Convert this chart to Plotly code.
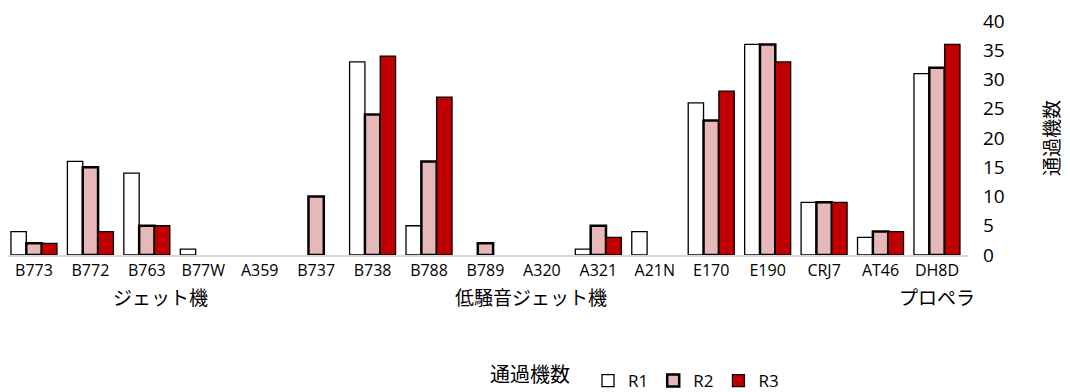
import plotly.graph_objects as go

categories = ["B773", "B772", "B763", "B77W", "A359", "B737", "B738", "B788", "B789",
              "A320", "A321", "A21N", "E170", "E190", "CRJ7", "AT46", "DH8D"]
r1 = [4, 16, 14, 1, 0, 0, 33, 5, 0, 0, 1, 4, 26, 36, 9, 3, 31]
r2 = [2, 15, 5, 0, 0, 10, 24, 16, 2, 0, 5, 0, 23, 36, 9, 4, 32]
r3 = [2, 4, 5, 0, 0, 0, 34, 27, 0, 0, 3, 0, 28, 33, 9, 4, 36]
series_names = ["R1", "R2", "R3"]
group_labels = ["ジェット機", "低騒音ジェット機", "プロペラ"]
group_pos = [2.25, 8.8, 16.0]
legend_title = "通過機数"

LAT = "Open Sans, Noto Sans CJK JP, sans-serif"
CJK = "Noto Sans CJK JP, sans-serif"

W, H = 1062, 384
ML, MR, MT, MB = 0, 102, 13, 137
PW, PH = W - ML - MR, H - MT - MB

fig = go.Figure()
styles = [
    dict(color="#FFFFFF", line=dict(color="#000000", width=1.3)),
    dict(color="#E6B8B7", line=dict(color="#000000", width=2.5)),
    dict(color="#C00000", line=dict(color="#000000", width=1.3)),
]
for name, vals, st in zip(series_names, [r1, r2, r3], styles):
    # zero counts draw no bar in the reference
    shown = [v if v != 0 else None for v in vals]
    fig.add_trace(go.Bar(x=categories, y=shown, name=name, marker=st))

annotations = []
for lab, pos in zip(group_labels, group_pos):
    annotations.append(dict(text=lab, x=pos, xref="x", y=0, yref="paper",
                            yshift=-41, yanchor="middle", showarrow=False,
                            font=dict(family=CJK, size=19, color="#000000")))
annotations.append(dict(text=legend_title, x=(522 - ML) / PW, xref="paper",
                        y=-(365 - (MT + PH)) / PH, yref="paper", yanchor="middle",
                        xanchor="center", showarrow=False,
                        font=dict(family=CJK, size=20, color="#000000")))

fig.update_layout(
    width=W, height=H,
    margin=dict(l=ML, r=MR, t=MT, b=MB, autoexpand=False),
    plot_bgcolor="white", paper_bgcolor="white",
    barmode="group", bargap=0.185, bargroupgap=0,
    showlegend=True,
    legend=dict(orientation="h", xref="container", yref="container",
                x=580 / W, xanchor="left", y=1 - 373 / H, yanchor="middle",
                font=dict(family=LAT, size=17, color="#000000"),
                itemwidth=30, traceorder="normal"),
    annotations=annotations,
    xaxis=dict(showgrid=False, showline=True, linecolor="#D9D9D9", linewidth=1.5,
               ticks="", automargin=False, range=[-0.46, 16.55],
               tickfont=dict(family=LAT, size=16, color="#000000")),
    yaxis=dict(side="right", range=[0, 40], dtick=5, showgrid=False, zeroline=False,
               showline=False, ticks="", automargin=False, ticklabelstandoff=14,
               ticklabeloverflow="allow",
               tickfont=dict(family=LAT, size=19, color="#000000"),
               title=dict(text="通過機数", standoff=41,
                          font=dict(family=CJK, size=19, color="#000000"))),
)

fig.write_html("out.html")
